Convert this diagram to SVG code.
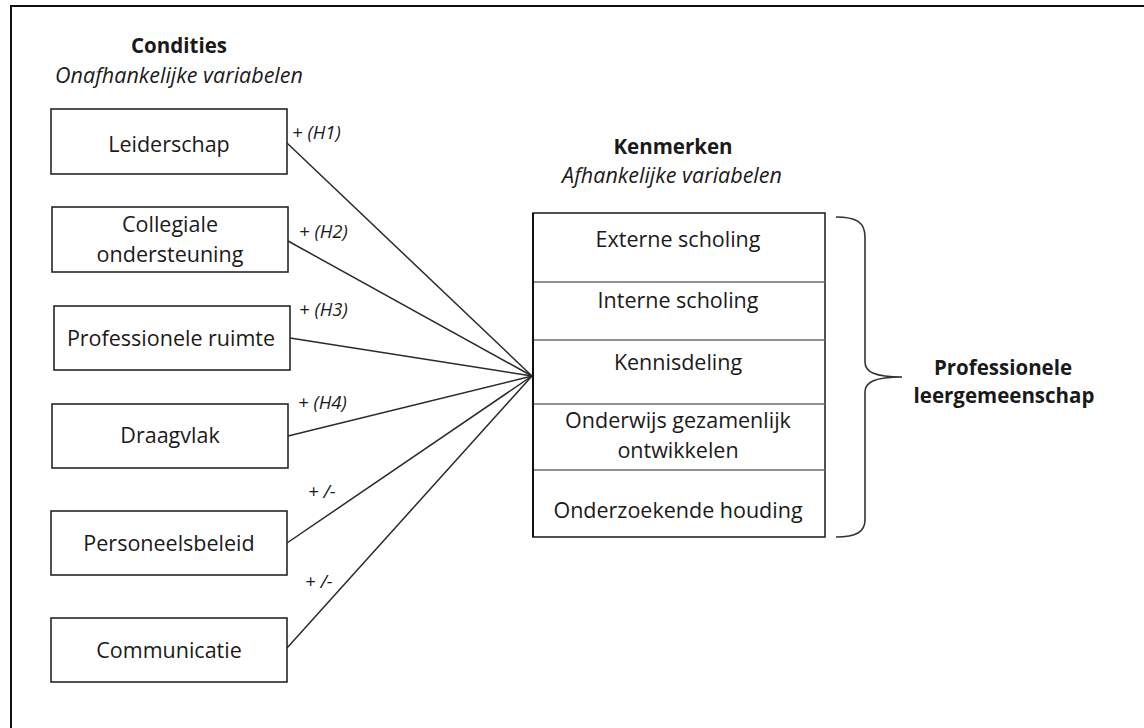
<svg xmlns="http://www.w3.org/2000/svg" width="1144" height="728" viewBox="0 0 1144 728">
<style>
text{font-family:"Open Sans","Liberation Sans",sans-serif;fill:#1a1a1a}
.n{font-size:21.5px;text-anchor:middle}
.h{font-size:20.5px;font-weight:bold;text-anchor:middle}
.i{font-size:21.5px;font-style:italic;text-anchor:middle}
.l{font-size:18.5px;font-style:italic}
.box{fill:#fff;stroke:#262626;stroke-width:1.6}
.c{stroke:#2a2a2a;stroke-width:1.5;fill:none}
.d{stroke:#6e6e6e;stroke-width:1.6}
</style>
<rect width="1144" height="728" fill="#fff"/>
<path d="M11,728 V6 H1144" fill="none" stroke="#111" stroke-width="2"/>
<g id="titles">
<text class="h" x="179" y="53">Condities</text>
<text class="i" x="179" y="83">Onafhankelijke variabelen</text>
<text class="h" x="673" y="154">Kenmerken</text>
<text class="i" x="672" y="183">Afhankelijke variabelen</text>
</g>
<g id="connectors">
<line class="c" x1="287" y1="143" x2="532" y2="376"/>
<line class="c" x1="288" y1="241" x2="532" y2="376"/>
<line class="c" x1="290" y1="338" x2="532" y2="376"/>
<line class="c" x1="288" y1="436" x2="532" y2="376"/>
<line class="c" x1="287" y1="543" x2="532" y2="376"/>
<line class="c" x1="287" y1="648" x2="532" y2="376"/>
<text class="l" x="292" y="139">+ (H1)</text>
<text class="l" x="299" y="238">+ (H2)</text>
<text class="l" x="299" y="316">+ (H3)</text>
<text class="l" x="298" y="409">+ (H4)</text>
<text class="l" x="308" y="498">+ /-</text>
<text class="l" x="305" y="588">+ /-</text>
</g>
<g id="leiderschap"><rect class="box" x="51" y="109" width="236" height="65"/><text class="n" x="169" y="152">Leiderschap</text></g>
<g id="collegiale"><rect class="box" x="52" y="207" width="236" height="65"/><text class="n" x="170" y="232">Collegiale</text><text class="n" x="170" y="262">ondersteuning</text></g>
<g id="professionele-ruimte"><rect class="box" x="54" y="306" width="236" height="64"/><text class="n" x="171" y="346">Professionele ruimte</text></g>
<g id="draagvlak"><rect class="box" x="52" y="404" width="236" height="64"/><text class="n" x="170" y="443">Draagvlak</text></g>
<g id="personeelsbeleid"><rect class="box" x="51" y="511" width="236" height="64"/><text class="n" x="169" y="551">Personeelsbeleid</text></g>
<g id="communicatie"><rect class="box" x="51" y="618" width="236" height="64"/><text class="n" x="169" y="658">Communicatie</text></g>
<g id="kenmerken">
<rect class="box" x="533" y="213" width="292" height="324"/>
<line class="d" x1="533" y1="282" x2="825" y2="282"/>
<line class="d" x1="533" y1="340" x2="825" y2="340"/>
<line class="d" x1="533" y1="404" x2="825" y2="404"/>
<line class="d" x1="533" y1="470" x2="825" y2="470"/>
<line x1="533" y1="213" x2="533" y2="537" stroke="#111" stroke-width="2"/>
<text class="n" x="678" y="247">Externe scholing</text>
<text class="n" x="678" y="308">Interne scholing</text>
<text class="n" x="678" y="370">Kennisdeling</text>
<text class="n" x="678" y="428">Onderwijs gezamenlijk</text>
<text class="n" x="678" y="458">ontwikkelen</text>
<text class="n" x="678" y="518">Onderzoekende houding</text>
</g>
<g id="brace">
<path d="M836,217 C856,217 865,222 865,237 V362 C865,372 875,377 902,377 C875,377 865,382 865,392 V520 C865,532 856,537 836,537" fill="none" stroke="#333" stroke-width="1.6"/>
</g>
<g id="plg">
<text class="h" x="1003" y="375">Professionele</text>
<text class="h" x="1004" y="403">leergemeenschap</text>
</g>
</svg>
